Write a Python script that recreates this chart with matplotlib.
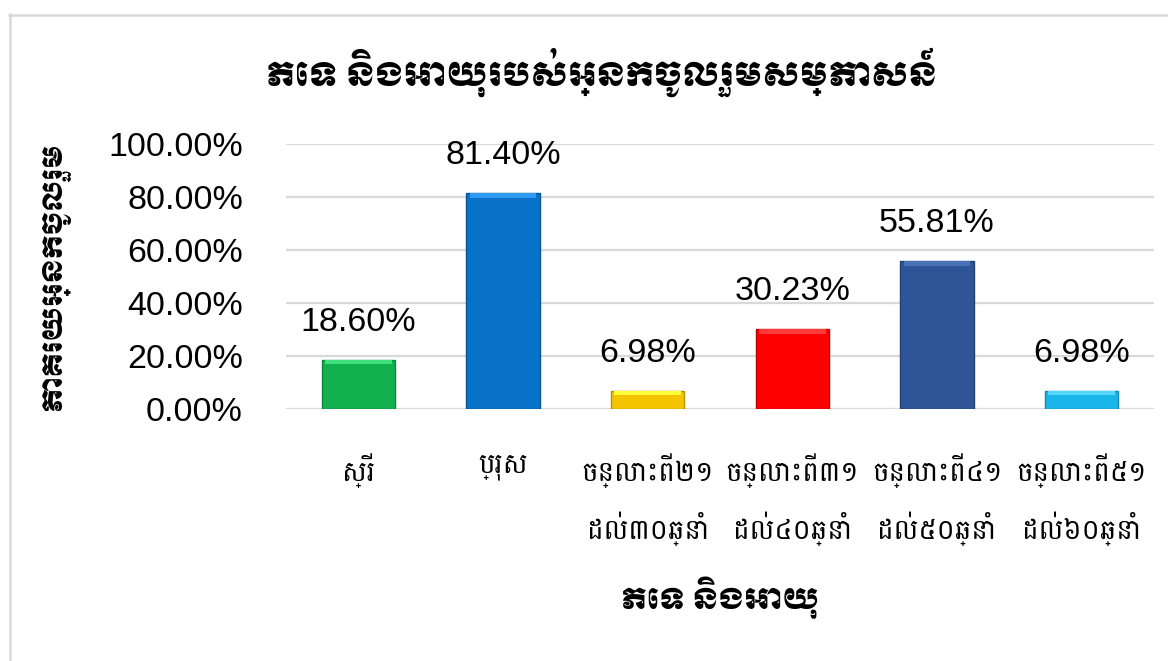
import matplotlib
matplotlib.use("Agg")
import matplotlib.pyplot as plt
import matplotlib.colors as mcolors
from matplotlib.ticker import FuncFormatter

title = "ភេទ និងអាយុរបស់អ្នកចូលរួមសម្ភាសន៍"
xlabel = "ភេទ និងអាយុ"
ylabel = "ភាគរយអ្នកចូលរួម"
categories = ["ស្រី", "ប្រុស",
              "ចន្លោះពី២១\nដល់៣០ឆ្នាំ", "ចន្លោះពី៣១\nដល់៤០ឆ្នាំ",
              "ចន្លោះពី៤១\nដល់៥០ឆ្នាំ", "ចន្លោះពី៥១\nដល់៦០ឆ្នាំ"]
values = [18.60, 81.40, 6.98, 30.23, 55.81, 6.98]
yticks = [0, 20, 40, 60, 80, 100]

bar_colors = ["#12b04f", "#0872c8", "#f5c400", "#ff0000", "#2f5597", "#1ab6ea"]
top_colors = ["#3fe07a", "#2b9af0", "#ffff3a", "#ff3a3a", "#4a72b8", "#55d8ff"]

W, H = 1168, 661
fig = plt.figure(figsize=(W / 100, H / 100), dpi=100)

# light chart-area border (left and top only visible in the crop)
fig.add_artist(plt.Line2D([9.5 / W, 9.5 / W], [0, 1 - 14 / H], color="#d9d9d9", lw=1.8))
fig.add_artist(plt.Line2D([9 / W, 1], [1 - 14.5 / H, 1 - 14.5 / H], color="#d9d9d9", lw=1.8))

ax = fig.add_axes([286 / W, 252 / H, 868 / W, 265 / H])
x = range(len(categories))
darker = [tuple(c * 0.75 for c in mcolors.to_rgb(col)) for col in bar_colors]
ax.bar(x, values, width=0.505, color=bar_colors, edgecolor=darker, linewidth=1.0, zorder=3)
# bevel highlight at the top of each bar
ax.bar(x, [1.8] * len(values), bottom=[v - 1.8 for v in values], width=0.46,
       color=top_colors, linewidth=0, zorder=4)

for xi, v in zip(x, values):
    ax.annotate("%.2f%%" % v, (xi, v), xytext=(0, 27), textcoords="offset points",
                ha="center", va="center", fontsize=24.5, family="Liberation Sans")

ax.set_xlim(-0.5, len(categories) - 0.5)
ax.set_ylim(0, 100)
ax.set_yticks(yticks)
ax.yaxis.set_major_formatter(FuncFormatter(lambda v, p: "%.2f%%" % v))
ax.grid(axis="y", color="#d9d9d9", lw=1.6, zorder=0)
ax.set_axisbelow(True)
for s in ax.spines.values():
    s.set_visible(False)
ax.tick_params(axis="y", length=0, pad=31, labelsize=24.5)
for t in ax.get_yticklabels():
    t.set_family("Liberation Sans")

ax.set_xticks(list(x))
ax.set_xticklabels(categories, family="Battambang", fontsize=20, linespacing=1.85)
ax.tick_params(axis="x", length=0, pad=32)

ax.set_xlabel(xlabel, family="Moul", fontsize=21, labelpad=22)
ax.set_ylabel(ylabel, family="Moul", fontsize=19.5)
ax.yaxis.set_label_coords(-216 / 868, 0.5)

fig.text(602 / W, 1 - 72 / H, title, family="Moul", fontsize=23.5, ha="center", va="center")

fig.savefig("out.png", dpi=100)
